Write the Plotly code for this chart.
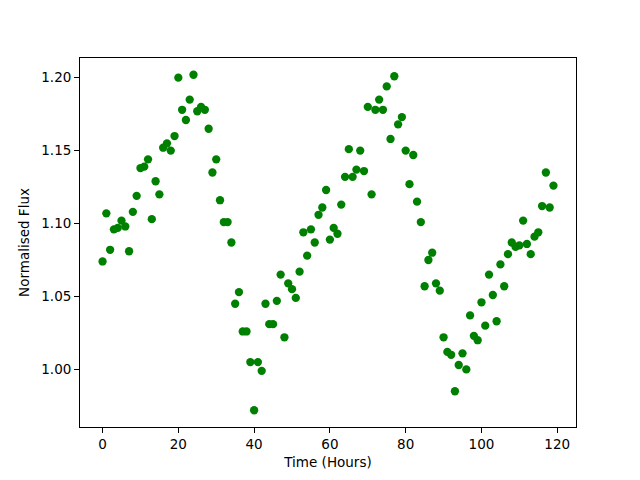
import plotly.graph_objects as go

hours = list(range(120))
flux = [
    1.074, 1.107, 1.082, 1.096, 1.097, 1.102, 1.098, 1.081, 1.108, 1.119,
    1.138, 1.139, 1.144, 1.103, 1.129, 1.120, 1.152, 1.155, 1.150, 1.160,
    1.200, 1.178, 1.171, 1.185, 1.202, 1.177, 1.180, 1.178, 1.165, 1.135,
    1.144, 1.116, 1.101, 1.101, 1.087, 1.045, 1.053, 1.026, 1.026, 1.005,
    0.972, 1.005, 0.999, 1.045, 1.031, 1.031, 1.047, 1.065, 1.022, 1.059,
    1.055, 1.049, 1.067, 1.094, 1.078, 1.096, 1.087, 1.106, 1.111, 1.123,
    1.089, 1.097, 1.093, 1.113, 1.132, 1.151, 1.132, 1.137, 1.150, 1.136,
    1.180, 1.120, 1.178, 1.185, 1.178, 1.194, 1.158, 1.201, 1.168, 1.173,
    1.150, 1.127, 1.147, 1.115, 1.101, 1.057, 1.075, 1.080, 1.059, 1.054,
    1.022, 1.012, 1.010, 0.985, 1.003, 1.011, 1.000, 1.037, 1.023, 1.020,
    1.046, 1.030, 1.065, 1.051, 1.033, 1.072, 1.057, 1.079, 1.087, 1.084,
    1.085, 1.102, 1.086, 1.079, 1.091, 1.094, 1.112, 1.135, 1.111, 1.126,
]
x_ticks = [0, 20, 40, 60, 80, 100, 120]
y_ticks = [1.00, 1.05, 1.10, 1.15, 1.20]

xmin, xmax = min(hours), max(hours)
ymin, ymax = min(flux), max(flux)
xpad = 0.05 * (xmax - xmin)
ypad = 0.05 * (ymax - ymin)

fig = go.Figure(
    go.Scatter(
        x=hours, y=flux, mode="markers",
        marker=dict(color="#008000", size=8.3, line=dict(width=0)),
    )
)

font = dict(family="DejaVu Sans", size=13.5, color="black")
axis_common = dict(
    showgrid=False, zeroline=False, showline=True, linecolor="black",
    linewidth=1.1, mirror=True, ticks="outside", ticklen=4.9, tickwidth=1.1,
    tickcolor="black", tickfont=font, automargin=False,
)
fig.update_layout(
    width=632, height=472,
    margin=dict(l=72, r=64, t=50, b=53, pad=0),
    paper_bgcolor="white", plot_bgcolor="white",
    showlegend=False, font=font,
    xaxis=dict(
        range=[xmin - xpad, xmax + xpad], tickvals=x_ticks,
        title=dict(text="Time (Hours)", font=font, standoff=6),
        **axis_common,
    ),
    yaxis=dict(
        range=[ymin - ypad, ymax + ypad], tickvals=y_ticks, tickformat=".2f",
        title=dict(text="Normalised Flux", font=font, standoff=8),
        **axis_common,
    ),
)

fig.write_html("out.html")
